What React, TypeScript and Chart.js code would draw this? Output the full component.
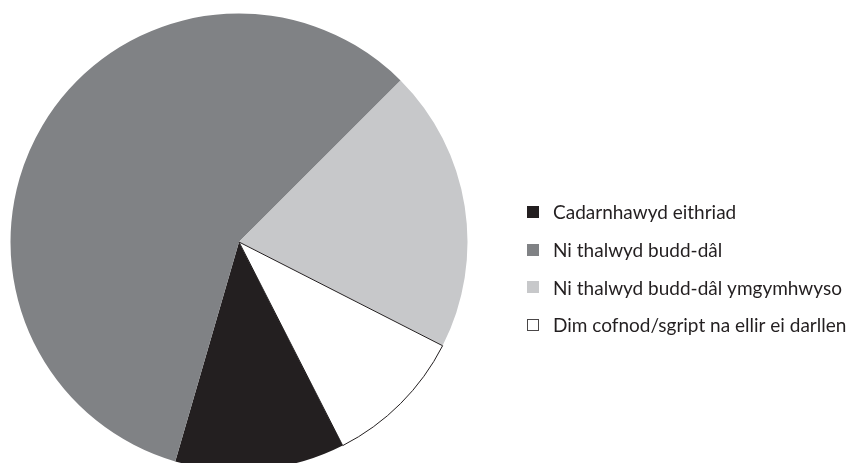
import React, { useEffect, useRef } from "react";
import { Chart, registerables } from "chart.js";

Chart.register(...registerables);

const labels = [
  "Cadarnhawyd eithriad",
  "Ni thalwyd budd-dâl",
  "Ni thalwyd budd-dâl ymgymhwyso",
  "Dim cofnod/sgript na ellir ei darllen",
];
const values = [12, 58, 20, 10];
const colors = ["#231f20", "#808285", "#c7c8ca", "#ffffff"];
const borderWidths = [0, 0, 0, 1];

const sideLegend = {
  id: "sideLegend",
  afterDraw(chart: any) {
    const ctx = chart.ctx;
    const ds = chart.data.datasets[0];
    ctx.save();
    ctx.font = "19px Lato";
    ctx.textBaseline = "middle";
    ctx.textAlign = "left";
    (chart.data.labels as string[]).forEach((lab, i) => {
      const cy = 212 + i * 37.7;
      const bx = 527;
      const size = 12;
      ctx.fillStyle = ds.backgroundColor[i];
      ctx.fillRect(bx, Math.round(cy - size / 2), size, size);
      if (ds.borderWidth[i] > 0) {
        ctx.strokeStyle = "#4a4748";
        ctx.lineWidth = 1;
        ctx.strokeRect(bx + 0.5, Math.round(cy - size / 2) + 0.5, size - 1, size - 1);
      }
      ctx.fillStyle = "#231f20";
      ctx.fillText(lab, 553, cy + 1);
    });
    ctx.restore();
  },
};

export default function App() {
  const ref = useRef<HTMLCanvasElement>(null);
  useEffect(() => {
    if (!ref.current) return;
    const chart = new Chart(ref.current, {
      type: "pie",
      data: {
        labels,
        datasets: [
          {
            data: values,
            backgroundColor: colors,
            borderColor: "#231f20",
            borderWidth: borderWidths,
            hoverOffset: 0,
            hoverBorderWidth: 0,
          } as any,
        ],
      },
      options: {
        responsive: false,
        animation: false,
        rotation: 153,
        radius: 228.5,
        layout: { padding: { left: 0, top: 0, bottom: 0, right: 379 } },
        plugins: { legend: { display: false }, tooltip: { enabled: false } },
      } as any,
      plugins: [sideLegend],
    });
    return () => chart.destroy();
  }, []);
  return (
    <div
      style={{
        position: "fixed",
        left: 0,
        top: 0,
        width: 857,
        height: 463,
        overflow: "hidden",
        background: "#fff",
      }}
    >
      <canvas ref={ref} width={857} height={484} style={{ display: "block" }} />
    </div>
  );
}
